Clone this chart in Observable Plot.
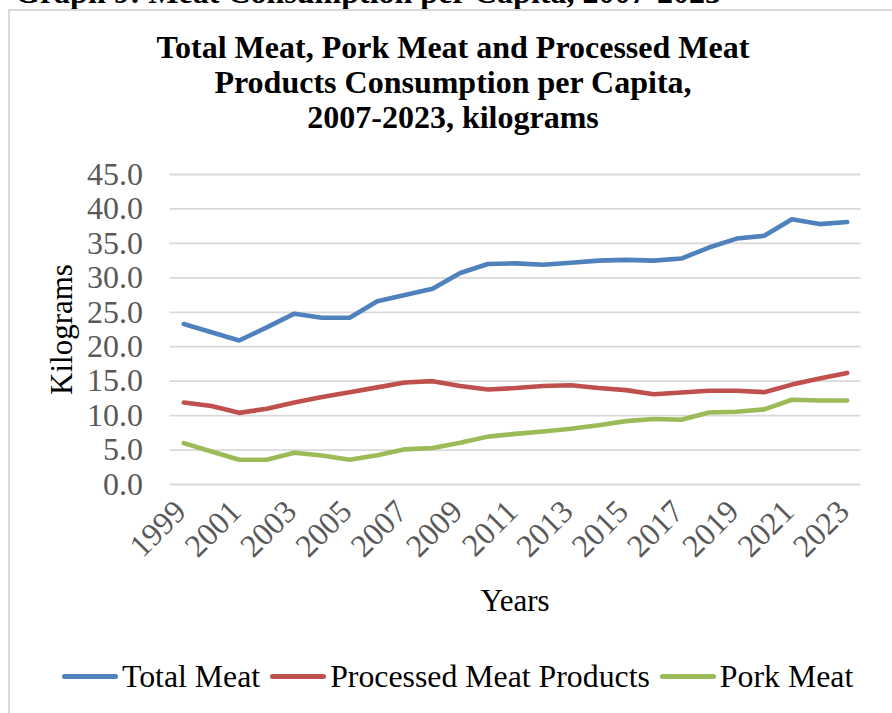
<!DOCTYPE html>
<html>
<head>
<meta charset="utf-8">
<script src="https://cdn.jsdelivr.net/npm/d3@7"></script>
<script src="https://cdn.jsdelivr.net/npm/@observablehq/plot@0.6"></script>
<style>
  html, body { margin: 0; padding: 0; background: #fff; }
  body { width: 892px; height: 713px; overflow: hidden; position: relative;
         font-family: "Times New Roman", "Liberation Serif", serif; color: #000; }
  .abs { position: absolute; }
  #header { left: 15px; top: -25px; font-size: 32px; font-weight: bold; white-space: nowrap; line-height: 35px; }
  #frame { left: 8px; top: 9px; width: 920px; height: 740px; border: 2px solid #d9d9d9; box-sizing: border-box; }
  #title { left: 153px; top: 30px; width: 600px; text-align: center; font-size: 32px; font-weight: bold; line-height: 35px; }
  #xlabel { left: 415px; top: 583px; width: 200px; text-align: center; font-size: 31px; line-height: 35px; }
  #legend { left: 62px; top: 659px; display: flex; align-items: center; font-size: 31.8px; line-height: 35px; white-space: nowrap; }
  .item { display: flex; align-items: center; margin-right: 10px; }
  .swatch { width: 56px; height: 5px; border-radius: 3px; margin-right: 4px; }
  #chart { left: 0; top: 0; }
</style>
</head>
<body>
<div id="header" class="abs">Graph 9: Meat Consumption per Capita, 2007-2023</div>
<div id="frame" class="abs"></div>
<div id="chart" class="abs"></div>
<div id="title" class="abs">Total Meat, Pork Meat and Processed Meat<br>Products Consumption per Capita,<br>2007-2023, kilograms</div>
<div id="xlabel" class="abs">Years</div>
<div id="legend" class="abs"></div>
<script>
const years = [1999,2000,2001,2002,2003,2004,2005,2006,2007,2008,2009,2010,2011,2012,2013,2014,2015,2016,2017,2018,2019,2020,2021,2022,2023];
const totalMeat     = [23.3,22.1,20.9,22.8,24.8,24.2,24.2,26.6,27.5,28.4,30.7,32.0,32.1,31.9,32.2,32.5,32.6,32.5,32.8,34.4,35.7,36.1,38.5,37.8,38.1];
const processedMeat = [11.9,11.4,10.4,11.0,11.9,12.7,13.4,14.1,14.8,15.0,14.3,13.8,14.0,14.3,14.4,14.0,13.7,13.1,13.35,13.6,13.6,13.4,14.5,15.4,16.2];
const porkMeat      = [6.0,4.8,3.6,3.6,4.6,4.2,3.6,4.25,5.1,5.3,6.05,6.95,7.35,7.7,8.1,8.6,9.2,9.5,9.4,10.45,10.55,10.9,12.3,12.2,12.2];
const seriesNames  = ["Total Meat", "Processed Meat Products", "Pork Meat"];
const seriesColors = ["#4f81bd", "#c0504d", "#9bbb59"];
const yTicks = [0,5,10,15,20,25,30,35,40,45];
const xTicks = [1999,2001,2003,2005,2007,2009,2011,2013,2015,2017,2019,2021,2023];
const yLabel = "Kilograms";

const seriesValues = [totalMeat, processedMeat, porkMeat];
const rows = [];
seriesNames.forEach((name, i) => years.forEach((yr, j) => rows.push({year: yr, value: seriesValues[i][j], series: name})));

const font = '"Times New Roman", "Liberation Serif", serif';
const chart = Plot.plot({
  width: 892,
  height: 713,
  marginLeft: 169.5,
  marginRight: 31.5,
  marginTop: 174,
  marginBottom: 229,
  style: {background: "none", fontFamily: font, overflow: "visible"},
  x: {domain: [years[0] - 0.5, years[years.length - 1] + 0.5], axis: null},
  y: {domain: [0, 45], axis: null},
  color: {domain: seriesNames, range: seriesColors},
  marks: [
    Plot.gridY(yTicks, {stroke: "#d9d9d9", strokeOpacity: 1, strokeWidth: 1.8}),
    Plot.axisY(yTicks, {tickSize: 0, tickPadding: 27, fontSize: 32, fill: "#595959", tickFormat: d => d.toFixed(1), label: null}),
    Plot.text(xTicks, {x: d => d, frameAnchor: "bottom", text: d => String(d), rotate: -45, textAnchor: "end", dy: 29, dx: 4, fontSize: 32, fill: "#595959"}),
    Plot.text([yLabel], {frameAnchor: "left", text: d => d, rotate: -90, textAnchor: "middle", dx: -107.5, fontSize: 31, fill: "#000"}),
    Plot.line(rows, {x: "year", y: "value", z: "series", stroke: "series", strokeWidth: 4.6, strokeLinecap: "round", strokeLinejoin: "round"})
  ]
});
document.getElementById("chart").appendChild(chart);

const legend = document.getElementById("legend");
seriesNames.forEach((name, i) => {
  const item = document.createElement("div");
  item.className = "item";
  const sw = document.createElement("div");
  sw.className = "swatch";
  sw.style.background = seriesColors[i];
  const label = document.createElement("span");
  label.textContent = name;
  item.appendChild(sw);
  item.appendChild(label);
  legend.appendChild(item);
});
</script>
</body>
</html>
